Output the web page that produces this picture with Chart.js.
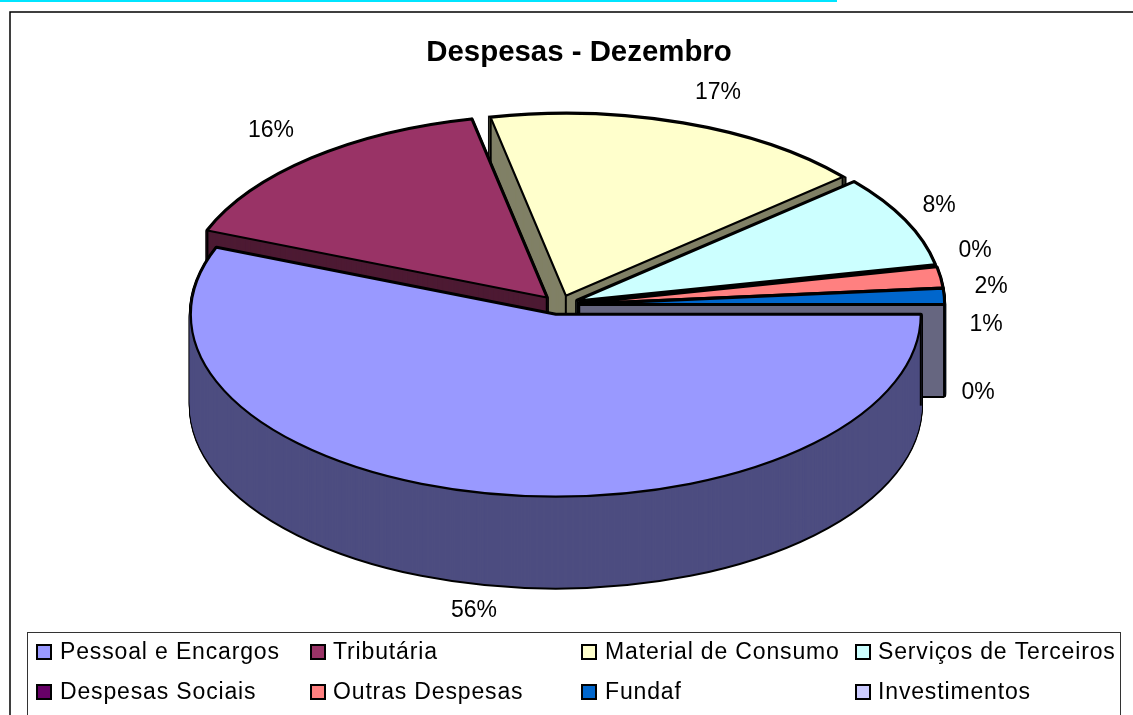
<!DOCTYPE html>
<html>
<head>
<meta charset="utf-8">
<title>Despesas - Dezembro</title>
<script src="https://cdn.jsdelivr.net/npm/chart.js@4"></script>
<style>
  html, body { margin: 0; padding: 0; background: #fff; overflow: hidden; }
  canvas { display: block; }
</style>
</head>
<body>
<canvas id="despesas" width="1133" height="715"></canvas>
<script>
//Data
const chartTitle = "Despesas - Dezembro";
const categories = ["Pessoal e Encargos", "Tributária", "Material de Consumo", "Serviços de Terceiros", "Despesas Sociais", "Outras Despesas", "Fundaf", "Investimentos"];
const shares = [56.0, 15.7, 17.0, 8.1, 0.0, 1.8, 1.4, 0.0];

//Colours
const topColors = ["#9999ff", "#993366", "#ffffcc", "#ccffff", "#660066", "#ff8080", "#0066cc", "#ccccff"];
const wallColors = ["#4d4d80", "#4d1a33", "#808066", "#668080", "#330033", "#804040", "#003366", "#666680"];

//Layout of the fake 3D pie
const rimX = 365;
const rimY = 182;
const depth = 91;
const paintOrder = [2, 1, 3, 4, 5, 6, 7, 0];

//Text layout
const labelAnchors = [[474, 611], [271, 131], [718, 93], [939, 206], [975, 251], [991, 287], [986, 325], [978, 393]];
const legendColumns = [[37, 60], [311, 333], [582, 605], [856, 878]];
const legendRows = [653, 693];

function slicePath(ctx, s, drop) {
  ctx.beginPath();
  ctx.moveTo(s.x, s.y + drop);
  if (s.end > s.start) {
    ctx.ellipse(s.x, s.y + drop, rimX, rimY, 0, s.start, s.end);
    ctx.closePath();
  } else {
    ctx.lineTo(s.x + rimX * Math.cos(s.start), s.y + drop + rimY * Math.sin(s.start));
  }
}

function drawSlice(ctx, arc, i) {
  const r = arc.outerRadius;
  const mid = (arc.startAngle + arc.endAngle) / 2;
  const off = arc.options.offset;
  const s = {
    x: arc.x + off * (rimX / r) * Math.cos(mid),
    y: arc.y + off * (rimY / r) * Math.sin(mid),
    start: arc.startAngle,
    end: arc.endAngle
  };

  //side walls: black silhouette first, wall colour over it
  ctx.strokeStyle = "#000";
  ctx.lineWidth = 4;
  for (let k = depth; k >= 0; k--) {
    slicePath(ctx, s, k);
    ctx.stroke();
  }
  ctx.strokeStyle = wallColors[i];
  ctx.fillStyle = wallColors[i];
  ctx.lineWidth = 2;
  for (let k = depth - 1; k >= 1; k--) {
    slicePath(ctx, s, k);
    ctx.fill();
    ctx.stroke();
  }

  //upright edges
  const corners = [[s.x, s.y],
    [s.x + rimX * Math.cos(s.start), s.y + rimY * Math.sin(s.start)],
    [s.x + rimX * Math.cos(s.end), s.y + rimY * Math.sin(s.end)]];
  ctx.strokeStyle = "#000";
  ctx.lineWidth = 2;
  corners.forEach(c => {
    ctx.beginPath();
    ctx.moveTo(c[0], c[1]);
    ctx.lineTo(c[0], c[1] + depth);
    ctx.stroke();
  });

  //top face
  slicePath(ctx, s, 0);
  ctx.fillStyle = topColors[i];
  ctx.fill();
  ctx.lineWidth = 2.2;
  ctx.lineJoin = "round";
  ctx.stroke();
}

const pie3d = {
  id: "pie3d",
  beforeDatasetsDraw(chart) {
    const ctx = chart.ctx;
    const arcs = chart.getDatasetMeta(0).data;
    ctx.save();
    paintOrder.forEach(i => drawSlice(ctx, arcs[i], i));
    ctx.restore();
    return false;
  }
};

const frame = {
  id: "frame",
  beforeDraw(chart) {
    const ctx = chart.ctx;
    ctx.save();
    ctx.fillStyle = "#fff";
    ctx.fillRect(0, 0, chart.width, chart.height);
    //cyan rule along the top of the page
    ctx.fillStyle = "#00e5ff";
    ctx.fillRect(0, 0, 837, 2);
    //outer border, runs off the picture on the right and bottom
    ctx.strokeStyle = "#000";
    ctx.lineWidth = 1.5;
    ctx.strokeRect(10, 12, 1140, 720);
    ctx.restore();
  },
  afterDraw(chart) {
    const ctx = chart.ctx;
    ctx.save();
    ctx.fillStyle = "#000";
    ctx.textBaseline = "middle";

    ctx.textAlign = "center";
    ctx.font = "bold 29.4px 'Liberation Sans'";
    ctx.fillText(chartTitle, 579, 53);

    ctx.font = "23px 'Liberation Sans'";
    shares.forEach((v, i) => {
      ctx.fillText(Math.round(v) + "%", labelAnchors[i][0], labelAnchors[i][1]);
    });

    //legend box
    ctx.strokeStyle = "#333";
    ctx.lineWidth = 1;
    ctx.strokeRect(27.5, 632.5, 1093, 100);
    ctx.textAlign = "left";
    ctx.font = "23px 'Liberation Sans'";
    ctx.letterSpacing = "0.85px";
    categories.forEach((name, i) => {
      const col = legendColumns[i % 4];
      const y = legendRows[Math.floor(i / 4)];
      ctx.fillStyle = topColors[i];
      ctx.fillRect(col[0], y - 8, 14, 14);
      ctx.strokeStyle = "#000";
      ctx.lineWidth = 2;
      ctx.strokeRect(col[0], y - 8, 14, 14);
      ctx.fillStyle = "#000";
      ctx.fillText(name, col[1], y);
    });
    ctx.restore();
  }
};

const despesas = new Chart(document.getElementById("despesas"), {
  type: "pie",
  data: {
    labels: categories,
    datasets: [{ label: "Despesas", data: shares, backgroundColor: topColors, borderColor: "#000", borderWidth: 2, offset: 16 }]
  },
  options: {
    responsive: false,
    animation: false,
    rotation: 90,
    layout: { padding: { right: 14, bottom: 105 } },
    plugins: { legend: { display: false }, tooltip: { enabled: false } }
  },
  plugins: [frame, pie3d]
});
</script>
</body>
</html>
